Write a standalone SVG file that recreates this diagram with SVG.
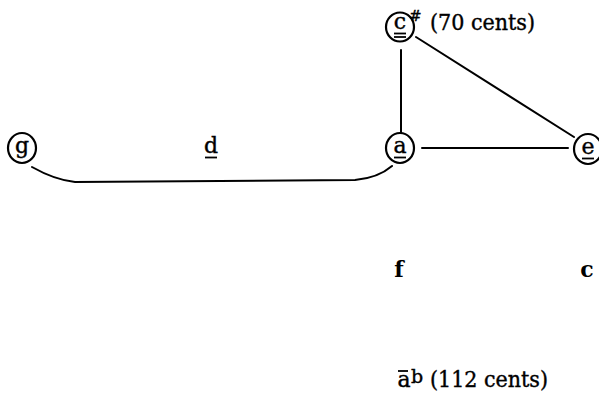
<svg xmlns="http://www.w3.org/2000/svg" width="599" height="403" viewBox="0 0 599 403">
<style>
text{font-family:"DejaVu Serif","Liberation Serif",serif;fill:#000;stroke:#000;stroke-width:0.4}
.n{font-size:22px;text-anchor:middle}
.ring{fill:none;stroke:#000;stroke-width:2.2}
.ln{fill:none;stroke:#000;stroke-width:2;stroke-linecap:round}
.ul{stroke:#000;stroke-width:1.8}
.lbl{font-size:22px}
.big{font-size:22px;text-anchor:middle;font-weight:bold;stroke-width:0}
</style>
<rect width="599" height="403" fill="#fff"/>
<g id="connectors">
<line class="ln" x1="401" y1="50" x2="401" y2="133"/>
<line class="ln" x1="416" y1="37" x2="574" y2="137"/>
<line class="ln" x1="422" y1="148" x2="568" y2="148"/>
<path class="ln" d="M32,167 Q55,180 75,182 L355,180 Q378,178 392,166"/>
</g>
<g id="node-csharp">
<ellipse class="ring" cx="400" cy="27" rx="14" ry="14.5"/>
<text class="n" x="400" y="29">c</text>
<line class="ul" x1="394" y1="33.5" x2="406" y2="33.5"/>
<line class="ul" x1="394" y1="37" x2="406" y2="37"/>
<text x="409" y="21" style="font-size:15px">#</text>
<text class="lbl" x="430" y="30" textLength="105" lengthAdjust="spacingAndGlyphs">(70 cents)</text>
</g>
<g id="node-g">
<ellipse class="ring" cx="22" cy="148" rx="14" ry="15"/>
<text class="n" x="22" y="153">g</text>
</g>
<g id="label-d">
<text class="n" x="211" y="153">d</text>
<line class="ul" x1="205" y1="157.5" x2="217" y2="157.5"/>
</g>
<g id="node-a">
<ellipse class="ring" cx="400" cy="148" rx="14" ry="15"/>
<text class="n" x="400" y="153">a</text>
<line class="ul" x1="394" y1="157.5" x2="406" y2="157.5"/>
</g>
<g id="node-e">
<ellipse class="ring" cx="588" cy="149" rx="14" ry="15"/>
<text class="n" x="588" y="154">e</text>
<line class="ul" x1="582" y1="158.5" x2="594" y2="158.5"/>
</g>
<g id="label-f">
<text class="big" x="399" y="277">f</text>
</g>
<g id="label-c">
<text class="big" x="587" y="277">c</text>
</g>
<g id="label-ab">
<text class="n" x="404" y="387">a</text>
<line class="ul" x1="398" y1="371" x2="408" y2="371"/>
<text x="411" y="383" style="font-size:19px">b</text>
<text class="lbl" x="430" y="387" textLength="118" lengthAdjust="spacingAndGlyphs">(112 cents)</text>
</g>
</svg>
